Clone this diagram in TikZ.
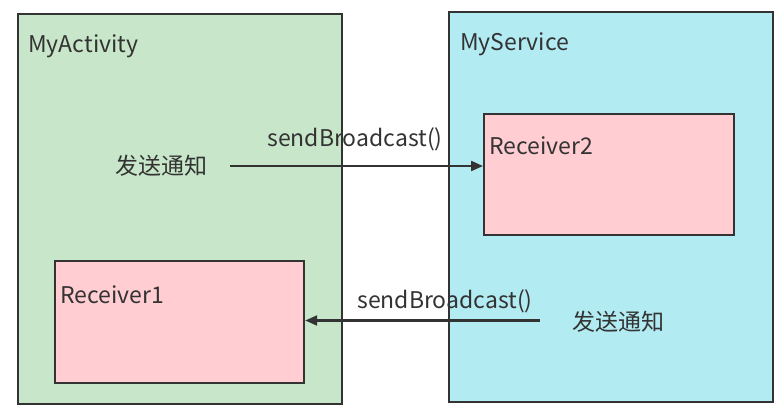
\documentclass[tikz,border=0pt]{standalone}
\usepackage{fontspec}
\setmainfont{Noto Sans CJK SC}
\usetikzlibrary{arrows.meta}
\definecolor{gbg}{HTML}{C8E6C9}
\definecolor{cbg}{HTML}{B2EBF2}
\definecolor{pbg}{HTML}{FFCDD2}
\definecolor{ln}{HTML}{333333}
\definecolor{tx}{HTML}{333333}
\tikzset{
  box/.style={draw=ln, line width=2.2pt, inner sep=0pt},
  lbl/.style={text=tx, font=\fontsize{23}{26}\selectfont, inner sep=0pt},
  arr/.style={draw=ln, line width=2.2pt, -{Triangle[length=12pt,width=10pt]}},
}
\begin{document}
\begin{tikzpicture}[x=1pt,y=-1pt]
\useasboundingbox (0,0) rectangle (783,412);
\node[box, fill=gbg, minimum width=324pt, minimum height=390pt, anchor=north west] (act) at (17,13) {};
\node[box, fill=cbg, minimum width=324pt, minimum height=390pt, anchor=north west] (srv) at (448,11) {};
\node[box, fill=pbg, minimum width=250pt, minimum height=121pt, anchor=north west] (r2) at (483,113) {};
\node[box, fill=pbg, minimum width=249pt, minimum height=122pt, anchor=north west] (r1) at (54,260) {};
\node[lbl, anchor=west] (tact) at (28,46) {MyActivity};
\node[lbl, anchor=west] (tsrv) at (460,44) {MyService};
\node[lbl, anchor=west] (tr2) at (489,146) {Receiver2};
\node[lbl, anchor=west] (tr1) at (60,295) {Receiver1};
\node[lbl, anchor=west] (s1) at (115,166) {发送通知};
\coordinate (s1e) at (230,166);
\node[lbl] (b1) at (355,139) {sendBroadcast()};
\node[lbl, anchor=west] (s2) at (572,322) {发送通知};
\coordinate (s2e) at (540,320.5);
\node[lbl] (b2) at (445,301) {sendBroadcast()};
\draw[arr] (s1e) -- (r2.west |- s1e);
\draw[arr] (s2e) -- (r1.east |- s2e);
\end{tikzpicture}
\end{document}
